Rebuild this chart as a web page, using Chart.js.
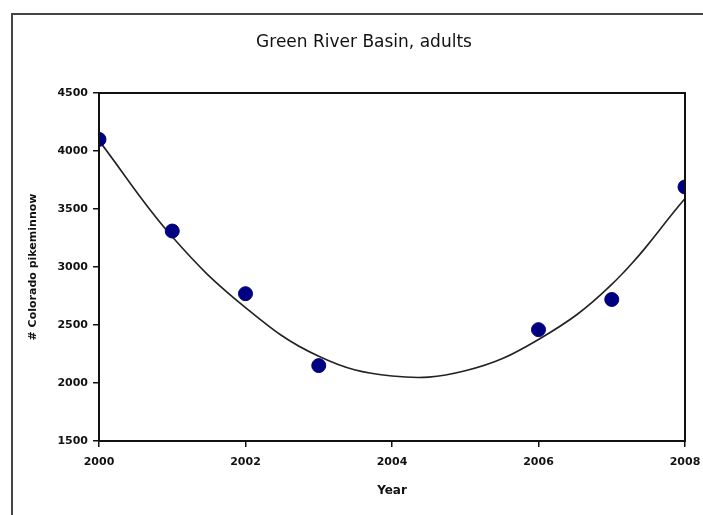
<!DOCTYPE html>
<html>
<head>
<meta charset="utf-8">
<script src="https://cdn.jsdelivr.net/npm/chart.js@4/dist/chart.umd.min.js"></script>
<style>
  html, body { margin: 0; padding: 0; background: #fff; overflow: hidden; }
  #wrap { position: relative; width: 703px; height: 515px; }
  #frame { position: absolute; left: 11px; top: 13px; width: 800px; height: 600px;
           border-left: 2px solid #444; border-top: 2px solid #444; }
  canvas { position: absolute; left: 0; top: 0; }
</style>
</head>
<body>
<div id="wrap">
  <div id="frame"></div>
  <canvas id="c" width="703" height="515"></canvas>
</div>
<script>
// Survey years and adult counts
const years = [2000, 2001, 2002, 2003, 2006, 2007, 2008];
const counts = [4100, 3310, 2770, 2150, 2460, 2720, 3690];

// Fitted trend curve, sampled yearly
const trendYears = [2000, 2001, 2002, 2003, 2004, 2005, 2006, 2007, 2008];
const trendCounts = [4090, 3260, 2650, 2230, 2060, 2105, 2375, 2850, 3590];

// Axis ticks
const yTicks = [1500, 2000, 2500, 3000, 3500, 4000, 4500];
const xTicks = [2000, 2002, 2004, 2006, 2008];

const titleText = 'Green River Basin, adults';

const frameBox = {
  id: 'frameBox',
  afterDatasetsDraw(chart) {
    const a = chart.chartArea, ctx = chart.ctx;
    ctx.save();
    ctx.strokeStyle = '#111';
    ctx.lineWidth = 2;
    ctx.strokeRect(a.left, a.top, a.right - a.left, a.bottom - a.top);
    ctx.restore();
  },
  afterDraw(chart) {
    const ctx = chart.ctx;
    ctx.save();
    ctx.fillStyle = '#111';
    ctx.font = '17px "DejaVu Sans"';
    ctx.textAlign = 'center';
    ctx.textBaseline = 'middle';
    ctx.fillText(titleText, 364, 43);
    ctx.restore();
  }
};

new Chart(document.getElementById('c'), {
  type: 'scatter',
  data: {
    datasets: [
      {
        label: 'Trend',
        data: trendYears.map((x, i) => ({ x, y: trendCounts[i] })),
        showLine: true,
        borderColor: '#222',
        borderWidth: 1.6,
        pointRadius: 0,
        tension: 0.4,
        fill: false,
        order: 2
      },
      {
        label: 'Adults',
        data: years.map((x, i) => ({ x, y: counts[i] })),
        backgroundColor: '#000080',
        borderColor: '#000080',
        pointRadius: 7,
        pointHoverRadius: 7,
        order: 1
      }
    ]
  },
  options: {
    responsive: false,
    animation: false,
    events: [],
    layout: { padding: { top: 93, right: 18, left: 0, bottom: 0 } },
    plugins: {
      legend: { display: false },
      tooltip: { enabled: false },
      title: { display: false }
    },
    scales: {
      x: {
        type: 'linear',
        min: 2000,
        max: 2008,
        afterBuildTicks: s => { s.ticks = xTicks.map(v => ({ value: v })); },
        afterFit: s => { s.height = 74; s.paddingLeft = 0; s.paddingRight = 0; },
        grid: { drawOnChartArea: false, drawTicks: true, tickLength: 6, color: '#111', lineWidth: 1.5 },
        border: { display: true, color: '#111', width: 2 },
        ticks: {
          color: '#111',
          font: { family: 'DejaVu Sans', size: 11, weight: 'bold' },
          padding: 9,
          maxRotation: 0,
          callback: v => String(v)
        },
        title: {
          display: true,
          text: 'Year',
          color: '#111',
          font: { family: 'DejaVu Sans', size: 12, weight: 'bold' },
          padding: { top: 0, bottom: 17 }
        }
      },
      y: {
        min: 1500,
        max: 4500,
        afterBuildTicks: s => { s.ticks = yTicks.map(v => ({ value: v })); },
        afterFit: s => { s.width = 99; s.paddingTop = 0; s.paddingBottom = 0; },
        grid: { drawOnChartArea: false, drawTicks: true, tickLength: 6, color: '#111', lineWidth: 1.5 },
        border: { display: true, color: '#111', width: 2 },
        ticks: {
          color: '#111',
          font: { family: 'DejaVu Sans', size: 11, weight: 'bold' },
          padding: 5,
          callback: v => String(v)
        },
        title: {
          display: true,
          text: '# Colorado pikeminnow',
          color: '#111',
          font: { family: 'DejaVu Sans', size: 11, weight: 'bold' },
          padding: { top: 27, bottom: 0 }
        }
      }
    }
  },
  plugins: [frameBox]
});
</script>
</body>
</html>
